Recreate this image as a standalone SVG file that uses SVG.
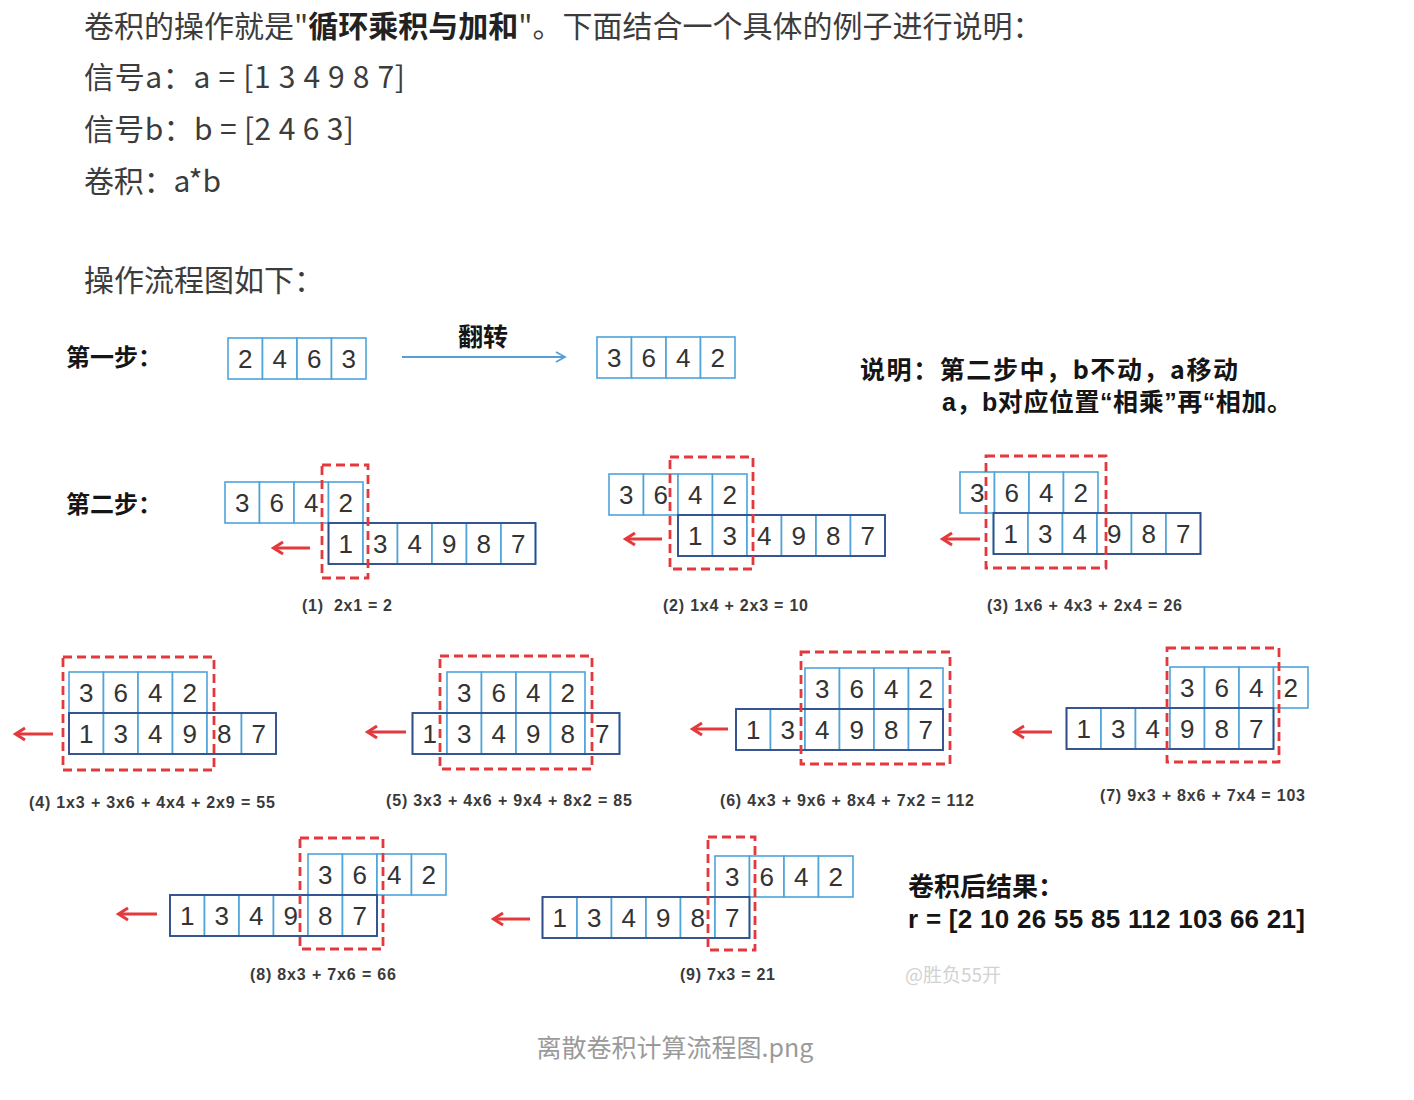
<svg xmlns="http://www.w3.org/2000/svg" width="1414" height="1100" viewBox="0 0 1414 1100">
<style>
.h{font-family:"Noto Sans CJK SC","Noto Sans",sans-serif;font-size:30px;fill:#3c3c3c}
.lb{font-family:"Noto Sans CJK SC","Noto Sans",sans-serif;font-weight:bold;fill:#151515}
.lq{font-family:"Liberation Sans","Noto Sans CJK SC",sans-serif;font-weight:bold;fill:#151515}
.c{fill:#fff;stroke:#4ea3da;stroke-width:1.6}
.o{fill:none;stroke:#2f4c88;stroke-width:1.8}
.d{font-family:"Liberation Sans",Arial,sans-serif;font-size:26px;fill:#333;text-anchor:middle}
.rd{fill:none;stroke:#e4393c;stroke-width:2.8;stroke-dasharray:9 5}
.ra{fill:none;stroke:#e4393c;stroke-width:3;marker-end:url(#rh)}
.ba{fill:none;stroke:#5a9fd4;stroke-width:1.8;marker-end:url(#bh)}
.cap{font-family:"Liberation Sans",Arial,sans-serif;font-weight:bold;font-size:16px;fill:#3a3a3a}
</style>
<defs>
<marker id="rh" markerUnits="userSpaceOnUse" viewBox="0 0 12 14" markerWidth="12" markerHeight="14" refX="10" refY="7" orient="auto" overflow="visible"><path d="M1,1 L10.5,7 L1,13" fill="none" stroke="#e4393c" stroke-width="3"/></marker>
<marker id="bh" markerUnits="userSpaceOnUse" viewBox="0 0 12 12" markerWidth="12" markerHeight="12" refX="10" refY="6" orient="auto" overflow="visible"><path d="M1,1 L10,6 L1,11" fill="none" stroke="#5a9fd4" stroke-width="1.8"/></marker>
</defs>
<rect width="1414" height="1100" fill="#fff"/>

<g id="intro">
<text class="h" x="84" y="37">卷积的操作就是"<tspan font-weight="bold" fill="#222">循环乘积与加和</tspan>"。下面结合一个具体的例子进行说明：</text>
<text class="h" x="84" y="88" textLength="321" lengthAdjust="spacing">信号a：a = [1 3 4 9 8 7]</text>
<text class="h" x="84" y="140" textLength="270" lengthAdjust="spacing">信号b：b = [2 4 6 3]</text>
<text class="h" x="84" y="192" textLength="137" lengthAdjust="spacing">卷积：a*b</text>
<text class="h" x="84" y="291">操作流程图如下：</text>
</g>

<g id="step1">
<text class="lb" x="66" y="366" font-size="24">第一步：</text>
<g id="b-orig" transform="translate(228,338)">
<rect class="c" x="0" y="0" width="34.5" height="41"/><rect class="c" x="34.5" y="0" width="34.5" height="41"/><rect class="c" x="69" y="0" width="34.5" height="41"/><rect class="c" x="103.5" y="0" width="34.5" height="41"/>
<text class="d" x="17.25" y="30">2</text><text class="d" x="51.75" y="30">4</text><text class="d" x="86.25" y="30">6</text><text class="d" x="120.75" y="30">3</text>
</g>
<text class="lb" x="458" y="346" font-size="25">翻转</text>
<g id="b-flip" transform="translate(597,337)">
<rect class="c" x="0" y="0" width="34.5" height="41"/><rect class="c" x="34.5" y="0" width="34.5" height="41"/><rect class="c" x="69" y="0" width="34.5" height="41"/><rect class="c" x="103.5" y="0" width="34.5" height="41"/>
<text class="d" x="17.25" y="30">3</text><text class="d" x="51.75" y="30">6</text><text class="d" x="86.25" y="30">4</text><text class="d" x="120.75" y="30">2</text>
</g>
</g>

<g id="note">
<text class="lb" x="860" y="379" font-size="25" textLength="378" lengthAdjust="spacing">说明：第二步中，b不动，a移动</text>
<text class="lq" x="942" y="411" font-size="25" textLength="350" lengthAdjust="spacing">a，b对应位置“相乘”再“相加。</text>
</g>

<text class="lb" x="66" y="513" font-size="24">第二步：</text>

<g id="conv1">
<g transform="translate(225,482)">
<rect class="c" x="0" y="0" width="34.5" height="41"/><rect class="c" x="34.5" y="0" width="34.5" height="41"/><rect class="c" x="69" y="0" width="34.5" height="41"/><rect class="c" x="103.5" y="0" width="34.5" height="41"/>
<text class="d" x="17.25" y="30">3</text><text class="d" x="51.75" y="30">6</text><text class="d" x="86.25" y="30">4</text><text class="d" x="120.75" y="30">2</text>
</g>
<g transform="translate(328.5,523)">
<rect class="c" x="0" y="0" width="34.5" height="41"/><rect class="c" x="34.5" y="0" width="34.5" height="41"/><rect class="c" x="69" y="0" width="34.5" height="41"/><rect class="c" x="103.5" y="0" width="34.5" height="41"/><rect class="c" x="138" y="0" width="34.5" height="41"/><rect class="c" x="172.5" y="0" width="34.5" height="41"/><rect class="o" x="0" y="0" width="207" height="41"/>
<text class="d" x="17.25" y="30">1</text><text class="d" x="51.75" y="30">3</text><text class="d" x="86.25" y="30">4</text><text class="d" x="120.75" y="30">9</text><text class="d" x="155.25" y="30">8</text><text class="d" x="189.75" y="30">7</text>
</g>
<rect class="rd" x="322" y="465" width="46" height="113"/>
<text class="cap" x="302" y="611" xml:space="preserve" textLength="90" lengthAdjust="spacing">(1)  2x1 = 2</text>
</g>

<g id="conv2">
<g transform="translate(609,474)">
<rect class="c" x="0" y="0" width="34.5" height="41"/><rect class="c" x="34.5" y="0" width="34.5" height="41"/><rect class="c" x="69" y="0" width="34.5" height="41"/><rect class="c" x="103.5" y="0" width="34.5" height="41"/>
<text class="d" x="17.25" y="30">3</text><text class="d" x="51.75" y="30">6</text><text class="d" x="86.25" y="30">4</text><text class="d" x="120.75" y="30">2</text>
</g>
<g transform="translate(678,515)">
<rect class="c" x="0" y="0" width="34.5" height="41"/><rect class="c" x="34.5" y="0" width="34.5" height="41"/><rect class="c" x="69" y="0" width="34.5" height="41"/><rect class="c" x="103.5" y="0" width="34.5" height="41"/><rect class="c" x="138" y="0" width="34.5" height="41"/><rect class="c" x="172.5" y="0" width="34.5" height="41"/><rect class="o" x="0" y="0" width="207" height="41"/>
<text class="d" x="17.25" y="30">1</text><text class="d" x="51.75" y="30">3</text><text class="d" x="86.25" y="30">4</text><text class="d" x="120.75" y="30">9</text><text class="d" x="155.25" y="30">8</text><text class="d" x="189.75" y="30">7</text>
</g>
<rect class="rd" x="670" y="457" width="83" height="112"/>
<text class="cap" x="663" y="611" textLength="145" lengthAdjust="spacing">(2) 1x4 + 2x3 = 10</text>
</g>

<g id="conv3">
<g transform="translate(960,472)">
<rect class="c" x="0" y="0" width="34.5" height="41"/><rect class="c" x="34.5" y="0" width="34.5" height="41"/><rect class="c" x="69" y="0" width="34.5" height="41"/><rect class="c" x="103.5" y="0" width="34.5" height="41"/>
<text class="d" x="17.25" y="30">3</text><text class="d" x="51.75" y="30">6</text><text class="d" x="86.25" y="30">4</text><text class="d" x="120.75" y="30">2</text>
</g>
<g transform="translate(993.5,513)">
<rect class="c" x="0" y="0" width="34.5" height="41"/><rect class="c" x="34.5" y="0" width="34.5" height="41"/><rect class="c" x="69" y="0" width="34.5" height="41"/><rect class="c" x="103.5" y="0" width="34.5" height="41"/><rect class="c" x="138" y="0" width="34.5" height="41"/><rect class="c" x="172.5" y="0" width="34.5" height="41"/><rect class="o" x="0" y="0" width="207" height="41"/>
<text class="d" x="17.25" y="30">1</text><text class="d" x="51.75" y="30">3</text><text class="d" x="86.25" y="30">4</text><text class="d" x="120.75" y="30">9</text><text class="d" x="155.25" y="30">8</text><text class="d" x="189.75" y="30">7</text>
</g>
<rect class="rd" x="986" y="456" width="120" height="112"/>
<text class="cap" x="987" y="611" textLength="195" lengthAdjust="spacing">(3) 1x6 + 4x3 + 2x4 = 26</text>
</g>

<g id="conv4">
<g transform="translate(69,672)">
<rect class="c" x="0" y="0" width="34.5" height="41"/><rect class="c" x="34.5" y="0" width="34.5" height="41"/><rect class="c" x="69" y="0" width="34.5" height="41"/><rect class="c" x="103.5" y="0" width="34.5" height="41"/>
<text class="d" x="17.25" y="30">3</text><text class="d" x="51.75" y="30">6</text><text class="d" x="86.25" y="30">4</text><text class="d" x="120.75" y="30">2</text>
</g>
<g transform="translate(69,713)">
<rect class="c" x="0" y="0" width="34.5" height="41"/><rect class="c" x="34.5" y="0" width="34.5" height="41"/><rect class="c" x="69" y="0" width="34.5" height="41"/><rect class="c" x="103.5" y="0" width="34.5" height="41"/><rect class="c" x="138" y="0" width="34.5" height="41"/><rect class="c" x="172.5" y="0" width="34.5" height="41"/><rect class="o" x="0" y="0" width="207" height="41"/>
<text class="d" x="17.25" y="30">1</text><text class="d" x="51.75" y="30">3</text><text class="d" x="86.25" y="30">4</text><text class="d" x="120.75" y="30">9</text><text class="d" x="155.25" y="30">8</text><text class="d" x="189.75" y="30">7</text>
</g>
<rect class="rd" x="63" y="657" width="151" height="113"/>
<text class="cap" x="29" y="808" textLength="246" lengthAdjust="spacing">(4) 1x3 + 3x6 + 4x4 + 2x9 = 55</text>
</g>

<g id="conv5">
<g transform="translate(447,672)">
<rect class="c" x="0" y="0" width="34.5" height="41"/><rect class="c" x="34.5" y="0" width="34.5" height="41"/><rect class="c" x="69" y="0" width="34.5" height="41"/><rect class="c" x="103.5" y="0" width="34.5" height="41"/>
<text class="d" x="17.25" y="30">3</text><text class="d" x="51.75" y="30">6</text><text class="d" x="86.25" y="30">4</text><text class="d" x="120.75" y="30">2</text>
</g>
<g transform="translate(412.5,713)">
<rect class="c" x="0" y="0" width="34.5" height="41"/><rect class="c" x="34.5" y="0" width="34.5" height="41"/><rect class="c" x="69" y="0" width="34.5" height="41"/><rect class="c" x="103.5" y="0" width="34.5" height="41"/><rect class="c" x="138" y="0" width="34.5" height="41"/><rect class="c" x="172.5" y="0" width="34.5" height="41"/><rect class="o" x="0" y="0" width="207" height="41"/>
<text class="d" x="17.25" y="30">1</text><text class="d" x="51.75" y="30">3</text><text class="d" x="86.25" y="30">4</text><text class="d" x="120.75" y="30">9</text><text class="d" x="155.25" y="30">8</text><text class="d" x="189.75" y="30">7</text>
</g>
<rect class="rd" x="440" y="656" width="152" height="113"/>
<text class="cap" x="386" y="806" textLength="246" lengthAdjust="spacing">(5) 3x3 + 4x6 + 9x4 + 8x2 = 85</text>
</g>

<g id="conv6">
<g transform="translate(805,668)">
<rect class="c" x="0" y="0" width="34.5" height="41"/><rect class="c" x="34.5" y="0" width="34.5" height="41"/><rect class="c" x="69" y="0" width="34.5" height="41"/><rect class="c" x="103.5" y="0" width="34.5" height="41"/>
<text class="d" x="17.25" y="30">3</text><text class="d" x="51.75" y="30">6</text><text class="d" x="86.25" y="30">4</text><text class="d" x="120.75" y="30">2</text>
</g>
<g transform="translate(736,709)">
<rect class="c" x="0" y="0" width="34.5" height="41"/><rect class="c" x="34.5" y="0" width="34.5" height="41"/><rect class="c" x="69" y="0" width="34.5" height="41"/><rect class="c" x="103.5" y="0" width="34.5" height="41"/><rect class="c" x="138" y="0" width="34.5" height="41"/><rect class="c" x="172.5" y="0" width="34.5" height="41"/><rect class="o" x="0" y="0" width="207" height="41"/>
<text class="d" x="17.25" y="30">1</text><text class="d" x="51.75" y="30">3</text><text class="d" x="86.25" y="30">4</text><text class="d" x="120.75" y="30">9</text><text class="d" x="155.25" y="30">8</text><text class="d" x="189.75" y="30">7</text>
</g>
<rect class="rd" x="801" y="652" width="149" height="112"/>
<text class="cap" x="720" y="806" textLength="254" lengthAdjust="spacing">(6) 4x3 + 9x6 + 8x4 + 7x2 = 112</text>
</g>

<g id="conv7">
<g transform="translate(1170,667)">
<rect class="c" x="0" y="0" width="34.5" height="41"/><rect class="c" x="34.5" y="0" width="34.5" height="41"/><rect class="c" x="69" y="0" width="34.5" height="41"/><rect class="c" x="103.5" y="0" width="34.5" height="41"/>
<text class="d" x="17.25" y="30">3</text><text class="d" x="51.75" y="30">6</text><text class="d" x="86.25" y="30">4</text><text class="d" x="120.75" y="30">2</text>
</g>
<g transform="translate(1066.5,708)">
<rect class="c" x="0" y="0" width="34.5" height="41"/><rect class="c" x="34.5" y="0" width="34.5" height="41"/><rect class="c" x="69" y="0" width="34.5" height="41"/><rect class="c" x="103.5" y="0" width="34.5" height="41"/><rect class="c" x="138" y="0" width="34.5" height="41"/><rect class="c" x="172.5" y="0" width="34.5" height="41"/><rect class="o" x="0" y="0" width="207" height="41"/>
<text class="d" x="17.25" y="30">1</text><text class="d" x="51.75" y="30">3</text><text class="d" x="86.25" y="30">4</text><text class="d" x="120.75" y="30">9</text><text class="d" x="155.25" y="30">8</text><text class="d" x="189.75" y="30">7</text>
</g>
<rect class="rd" x="1167" y="648" width="112" height="114"/>
<text class="cap" x="1100" y="801" textLength="205" lengthAdjust="spacing">(7) 9x3 + 8x6 + 7x4 = 103</text>
</g>

<g id="conv8">
<g transform="translate(308,854)">
<rect class="c" x="0" y="0" width="34.5" height="41"/><rect class="c" x="34.5" y="0" width="34.5" height="41"/><rect class="c" x="69" y="0" width="34.5" height="41"/><rect class="c" x="103.5" y="0" width="34.5" height="41"/>
<text class="d" x="17.25" y="30">3</text><text class="d" x="51.75" y="30">6</text><text class="d" x="86.25" y="30">4</text><text class="d" x="120.75" y="30">2</text>
</g>
<g transform="translate(170,895)">
<rect class="c" x="0" y="0" width="34.5" height="41"/><rect class="c" x="34.5" y="0" width="34.5" height="41"/><rect class="c" x="69" y="0" width="34.5" height="41"/><rect class="c" x="103.5" y="0" width="34.5" height="41"/><rect class="c" x="138" y="0" width="34.5" height="41"/><rect class="c" x="172.5" y="0" width="34.5" height="41"/><rect class="o" x="0" y="0" width="207" height="41"/>
<text class="d" x="17.25" y="30">1</text><text class="d" x="51.75" y="30">3</text><text class="d" x="86.25" y="30">4</text><text class="d" x="120.75" y="30">9</text><text class="d" x="155.25" y="30">8</text><text class="d" x="189.75" y="30">7</text>
</g>
<rect class="rd" x="300" y="838" width="83" height="111"/>
<text class="cap" x="250" y="980" textLength="146" lengthAdjust="spacing">(8) 8x3 + 7x6 = 66</text>
</g>

<g id="conv9">
<g transform="translate(715,856)">
<rect class="c" x="0" y="0" width="34.5" height="41"/><rect class="c" x="34.5" y="0" width="34.5" height="41"/><rect class="c" x="69" y="0" width="34.5" height="41"/><rect class="c" x="103.5" y="0" width="34.5" height="41"/>
<text class="d" x="17.25" y="30">3</text><text class="d" x="51.75" y="30">6</text><text class="d" x="86.25" y="30">4</text><text class="d" x="120.75" y="30">2</text>
</g>
<g transform="translate(542.5,897)">
<rect class="c" x="0" y="0" width="34.5" height="41"/><rect class="c" x="34.5" y="0" width="34.5" height="41"/><rect class="c" x="69" y="0" width="34.5" height="41"/><rect class="c" x="103.5" y="0" width="34.5" height="41"/><rect class="c" x="138" y="0" width="34.5" height="41"/><rect class="c" x="172.5" y="0" width="34.5" height="41"/><rect class="o" x="0" y="0" width="207" height="41"/>
<text class="d" x="17.25" y="30">1</text><text class="d" x="51.75" y="30">3</text><text class="d" x="86.25" y="30">4</text><text class="d" x="120.75" y="30">9</text><text class="d" x="155.25" y="30">8</text><text class="d" x="189.75" y="30">7</text>
</g>
<rect class="rd" x="708" y="837" width="47" height="113"/>
<text class="cap" x="680" y="980" textLength="95" lengthAdjust="spacing">(9) 7x3 = 21</text>
</g>

<g id="connectors">
<path class="ba" d="M402,357 H565"/>
<path class="ra" d="M310,548 H274"/>
<path class="ra" d="M662,539 H626"/>
<path class="ra" d="M980,539 H943"/>
<path class="ra" d="M53,734 H16"/>
<path class="ra" d="M406,732 H368"/>
<path class="ra" d="M728,729 H693"/>
<path class="ra" d="M1052,732 H1015"/>
<path class="ra" d="M157,914 H119"/>
<path class="ra" d="M530,919 H494"/>
</g>

<g id="result">
<text class="lb" x="908" y="896" font-size="26">卷积后结果：</text>
<text x="908" y="928" font-family="Liberation Sans, Arial, sans-serif" font-weight="bold" font-size="26" fill="#151515" textLength="397" lengthAdjust="spacing">r = [2 10 26 55 85 112 103 66 21]</text>
<text x="905" y="982" font-family="Noto Sans CJK SC, sans-serif" font-size="19" fill="#d2d2d2">@胜负55开</text>
</g>

<text x="675" y="1057" text-anchor="middle" font-family="Noto Sans CJK SC, sans-serif" font-size="25" fill="#9a9a9a">离散卷积计算流程图.png</text>
</svg>
